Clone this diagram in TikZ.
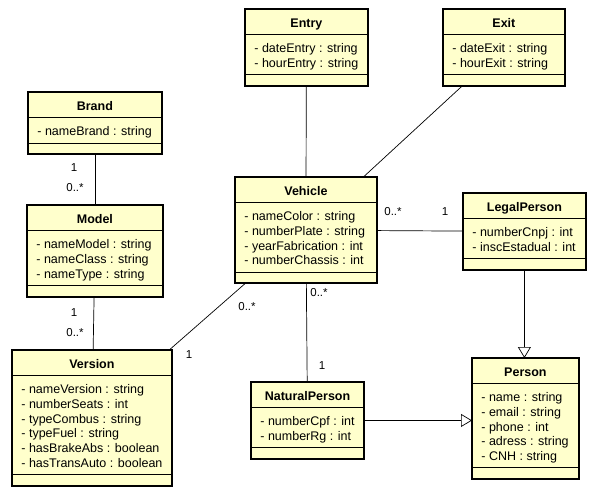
\documentclass[tikz,border=0pt]{standalone}
\usepackage{fontspec}
\setmainfont{Liberation Sans}
\usetikzlibrary{shapes.multipart,arrows.meta}
\definecolor{classfill}{RGB}{255,255,204}

\newcommand{\ctitle}[1]{\rule[-7pt]{0pt}{24.5pt}\textbf{#1}}
\newcommand{\cattrs}[1]{\begin{tabular}[t]{@{}l@{}}\rule{0pt}{17.5pt}#1\rule[-7pt]{0pt}{0pt}\end{tabular}}

\tikzset{
  umlclass/.style={rectangle split, rectangle split parts=3, draw, line width=0.8pt,
    fill=classfill, anchor=north west, inner xsep=9pt, inner ysep=0pt,
    rectangle split part align={center,left,left},
    rectangle split empty part height=10pt, rectangle split empty part depth=0pt,
    font=\fontsize{12.5}{14.7}\selectfont},
  mult/.style={font=\fontsize{11.5}{13}\selectfont, inner sep=0pt},
  assoc/.style={line width=0.7pt},
  inherit/.style={line width=0.7pt, -{Triangle[open,length=11pt,width=13pt]}},
}

\begin{document}
\begin{tikzpicture}[x=1pt,y=-1pt]
\useasboundingbox (0,0) rectangle (607,495);

% classes
\node[umlclass, minimum width=133pt] (brand) at (28,92)
  {\ctitle{Brand}\nodepart{two}\cattrs{- nameBrand : string}};
\node[umlclass, minimum width=120pt] (entry) at (245,9)
  {\ctitle{Entry}\nodepart{two}\cattrs{- dateEntry : string\\- hourEntry : string}};
\node[umlclass, minimum width=121pt] (exit) at (443,9)
  {\ctitle{Exit}\nodepart{two}\cattrs{- dateExit : string\\- hourExit : string}};
\node[umlclass, minimum width=141pt] (vehicle) at (235,177)
  {\ctitle{Vehicle}\nodepart{two}\cattrs{- nameColor : string\\- numberPlate : string\\- yearFabrication : int\\- numberChassis : int}};
\node[umlclass, minimum width=122pt] (legal) at (463,193)
  {\ctitle{LegalPerson}\nodepart{two}\cattrs{- numberCnpj : int\\- inscEstadual : int}};
\node[umlclass, minimum width=135pt] (model) at (27,205)
  {\ctitle{Model}\nodepart{two}\cattrs{- nameModel : string\\- nameClass : string\\- nameType : string}};
\node[umlclass, minimum width=158pt] (version) at (12,350)
  {\ctitle{Version}\nodepart{two}\cattrs{- nameVersion : string\\- numberSeats : int\\- typeCombus : string\\- typeFuel : string\\- hasBrakeAbs : boolean\\- hasTransAuto : boolean}};
\node[umlclass, minimum width=111pt] (natural) at (251,382)
  {\ctitle{NaturalPerson}\nodepart{two}\cattrs{- numberCpf : int\\- numberRg : int}};
\node[umlclass, minimum width=106pt] (person) at (472,358)
  {\ctitle{Person}\nodepart{two}\cattrs{- name : string\\- email : string\\- phone : int\\- adress : string\\- CNH : string}};

\foreach \c in {brand,entry,exit,vehicle,legal,model,version,natural,person}
  \draw[line width=2.2pt] (\c.north west) rectangle (\c.south east);

% associations
\draw[assoc] (brand) -- (model);
\draw[assoc] (model) -- (version);
\draw[assoc] (entry) -- (vehicle);
\draw[assoc] (exit) -- (vehicle);
\draw[assoc] (vehicle) -- (version);
\draw[assoc] (vehicle) -- (legal);
\draw[assoc] (vehicle) -- (natural);

% generalizations
\draw[inherit] (legal) -- (legal |- person.north);
\draw[inherit] (natural) -- (natural -| person.west);

% multiplicities
\node[mult] (mBrandOne) at (74,168) {1};
\node[mult] (mBrandMany) at (75,188) {0..*};
\node[mult] (mModelOne) at (74,313) {1};
\node[mult] (mModelMany) at (75,333) {0..*};
\node[mult] (mLegalMany) at (393,212) {0..*};
\node[mult] (mLegalOne) at (445,212) {1};
\node[mult] (mVersionOne) at (189,355) {1};
\node[mult] (mVersionMany) at (247,307) {0..*};
\node[mult] (mNaturalMany) at (319,293) {0..*};
\node[mult] (mNaturalOne) at (322,366) {1};
\end{tikzpicture}
\end{document}
